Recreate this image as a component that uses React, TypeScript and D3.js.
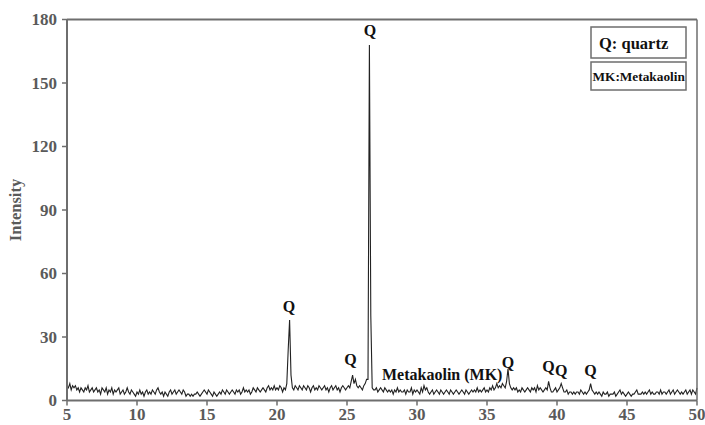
import React from "react";
import * as d3 from "d3";

// XRD pattern, 2θ from 5° to 50° sampled every 0.1°
const thetaStart = 5;
const thetaStep = 0.1;
const intensity: number[] = [
  // 5
  7, 6, 8, 5, 7, 6, 7, 5, 6, 4,
  // 6
  6, 5, 4, 6, 5, 7, 4, 5, 6, 4,
  // 7
  5, 6, 4, 5, 3, 6, 5, 4, 6, 3,
  // 8
  5, 4, 6, 3, 5, 4, 5, 6, 3, 4,
  // 9
  5, 3, 4, 6, 4, 3, 5, 4, 3, 2,
  // 10
  4, 3, 5, 3, 4, 2, 4, 5, 3, 4,
  // 11
  3, 5, 4, 3, 5, 6, 4, 3, 4, 2,
  // 12
  4, 3, 2, 4, 5, 3, 4, 5, 3, 4,
  // 13
  5, 4, 3, 5, 4, 2, 3, 3, 2, 3,
  // 14
  2, 3, 3, 4, 3, 2, 3, 4, 5, 4,
  // 15
  3, 5, 4, 3, 2, 4, 3, 2, 3, 4,
  // 16
  3, 5, 4, 3, 5, 4, 3, 4, 5, 4,
  // 17
  3, 5, 4, 5, 3, 4, 6, 4, 5, 4,
  // 18
  5, 3, 4, 6, 5, 4, 6, 5, 4, 5,
  // 19
  6, 5, 4, 6, 7, 5, 6, 5, 7, 5,
  // 20
  6, 5, 7, 6, 4, 6, 5, 8, 24, 38,
  // 21
  12, 6, 5, 7, 6, 5, 7, 6, 5, 7,
  // 22
  6, 5, 7, 6, 4, 6, 7, 5, 6, 5,
  // 23
  7, 6, 5, 6, 7, 5, 6, 4, 6, 7,
  // 24
  5, 6, 7, 5, 6, 4, 6, 7, 6, 5,
  // 25
  6, 7, 6, 9, 12, 8, 10, 7, 6, 7,
  // 26
  6, 5, 7, 8, 10, 10, 168, 40, 6, 5,
  // 27
  5, 6, 4, 5, 6, 5, 4, 6, 5, 4,
  // 28
  5, 4, 5, 3, 5, 4, 6, 4, 5, 4,
  // 29
  4, 5, 3, 5, 4, 4, 6, 3, 5, 4,
  // 30
  5, 4, 3, 6, 4, 7, 5, 6, 4, 3,
  // 31
  4, 5, 3, 4, 5, 4, 3, 5, 4, 3,
  // 32
  4, 5, 4, 3, 5, 4, 3, 4, 5, 4,
  // 33
  3, 4, 5, 4, 3, 5, 4, 3, 4, 5,
  // 34
  4, 5, 4, 6, 4, 5, 4, 5, 6, 4,
  // 35
  5, 4, 6, 5, 7, 5, 6, 8, 6, 7,
  // 36
  6, 8, 7, 6, 9, 15, 8, 6, 5, 6,
  // 37
  5, 6, 4, 5, 4, 6, 5, 4, 5, 6,
  // 38
  5, 4, 6, 5, 6, 4, 7, 5, 6, 5,
  // 39
  4, 5, 6, 5, 9, 6, 4, 4, 5, 6,
  // 40
  4, 5, 6, 8, 6, 4, 4, 5, 3, 4,
  // 41
  4, 3, 4, 3, 4, 4, 3, 5, 4, 3,
  // 42
  4, 3, 4, 5, 8, 5, 4, 3, 4, 3,
  // 43
  4, 3, 2, 4, 3, 3, 4, 2, 3, 3,
  // 44
  3, 4, 2, 3, 4, 5, 3, 4, 3, 2,
  // 45
  3, 4, 3, 2, 3, 3, 4, 5, 3, 3,
  // 46
  3, 4, 3, 4, 3, 4, 5, 3, 4, 3,
  // 47
  3, 4, 4, 3, 5, 3, 4, 4, 3, 4,
  // 48
  5, 3, 4, 5, 3, 4, 5, 4, 3, 4,
  // 49
  3, 4, 5, 3, 4, 5, 3, 5, 4, 3,
  // 50
  6,
];

const xTicks = [5, 10, 15, 20, 25, 30, 35, 40, 45, 50];
const yTicks = [0, 30, 60, 90, 120, 150, 180];

const peakLabels = ["Q", "Q", "Q", "Q", "Q", "Q", "Q"];
const peakTheta = [20.85, 25.25, 26.65, 36.5, 39.4, 40.3, 42.4];
const peakLabelIntensity = [42, 17, 172, 15.5, 13.5, 11.5, 11.5];

const legendItems = ["Q: quartz", "MK:Metakaolin"];
const phaseNote = "Metakaolin (MK)";

const W = 705;
const H = 425;
const M = { left: 67, right: 8, top: 19.5, bottom: 24.5 };

export default function App() {
  const x = d3.scaleLinear().domain([5, 50]).range([M.left, W - M.right]);
  const y = d3.scaleLinear().domain([0, 180]).range([H - M.bottom, M.top]);
  const pts: [number, number][] = intensity.map((v, i) => [
    thetaStart + i * thetaStep,
    v,
  ]);
  const line = d3
    .line<[number, number]>()
    .x((d) => x(d[0]))
    .y((d) => y(d[1]));
  const axisColor = "#6e6e6e";
  const labelColor = "#5a5a5a";
  const serif = "'Liberation Serif', 'Times New Roman', serif";
  const x0 = x(5), x1 = x(50), y0 = y(0), y1 = y(180);
  return (
    <svg
      width={W}
      height={H}
      style={{ position: "absolute", left: 0, top: 0, background: "#fff" }}
      fontFamily={serif}
    >
      <rect width={W} height={H} fill="#fff" />
      <path d={line(pts) || ""} fill="none" stroke="#222" strokeWidth={1.1} />
      {/* frame */}
      <line x1={x0} x2={x1} y1={y1} y2={y1} stroke={axisColor} strokeWidth={2} />
      <line x1={x1} x2={x1} y1={y1} y2={y0} stroke={axisColor} strokeWidth={1.5} />
      <line x1={x0} x2={x1} y1={y0} y2={y0} stroke={axisColor} strokeWidth={2} />
      <line x1={x0} x2={x0} y1={y1} y2={y0} stroke={axisColor} strokeWidth={2} />
      {yTicks.map((t) => (
        <g key={"y" + t}>
          <line x1={x0 - 5} x2={x0} y1={y(t)} y2={y(t)} stroke={axisColor} strokeWidth={1.5} />
          <text
            x={x0 - 10}
            y={y(t)}
            dy="0.35em"
            textAnchor="end"
            fontSize={17}
            fontWeight="bold"
            fill={labelColor}
          >
            {t}
          </text>
        </g>
      ))}
      {xTicks.map((t) => (
        <g key={"x" + t}>
          <line x1={x(t)} x2={x(t)} y1={y0} y2={y0 + 5} stroke={axisColor} strokeWidth={1.5} />
          <text
            x={x(t)}
            y={y0 + 19}
            textAnchor="middle"
            fontSize={17}
            fontWeight="bold"
            fill={labelColor}
          >
            {t}
          </text>
        </g>
      ))}
      <text
        transform={`translate(21,${(y0 + y1) / 2}) rotate(-90)`}
        textAnchor="middle"
        fontSize={16.5}
        fontWeight="bold"
        fill={labelColor}
      >
        Intensity
      </text>
      {peakLabels.map((l, i) => (
        <text
          key={"p" + i}
          x={x(peakTheta[i])}
          y={y(peakLabelIntensity[i])}
          textAnchor="middle"
          fontSize={16}
          fontWeight="bold"
          fill="#111"
        >
          {l}
        </text>
      ))}
      <text x={x(27.5)} y={380} fontSize={16} fontWeight="bold" fill="#111">
        {phaseNote}
      </text>
      {/* legend boxes */}
      <rect x={591} y={27} width={95} height={31} fill="#fff" stroke={axisColor} strokeWidth={1.5} />
      <text x={599} y={48.5} fontSize={16.5} fontWeight="bold" fill="#111">
        {legendItems[0]}
      </text>
      <rect x={591} y={62} width={95} height={28} fill="#fff" stroke={axisColor} strokeWidth={1.5} />
      <text x={592.5} y={81} fontSize={13.3} fontWeight="bold" fill="#111">
        {legendItems[1]}
      </text>
    </svg>
  );
}
